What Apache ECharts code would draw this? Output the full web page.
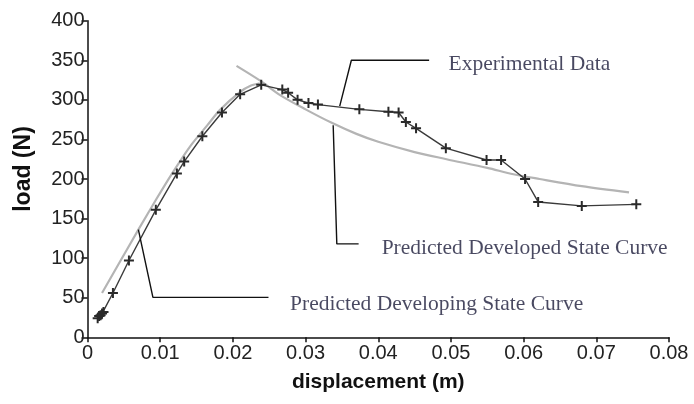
<!DOCTYPE html>
<html>
<head>
<meta charset="utf-8">
<script src="https://cdn.jsdelivr.net/npm/echarts@6/dist/echarts.min.js"></script>
<style>
  html, body { margin: 0; padding: 0; background: #fff; }
  #chart { width: 694px; height: 404px; }
</style>
</head>
<body>
<div id="chart"></div>
<script>
// displacement (m), load (N)
const experimental = [
  [0.0014, 24], [0.0016, 27], [0.0018, 28], [0.0020, 30], [0.0022, 32],
  [0.0035, 56], [0.0057, 97], [0.0094, 161], [0.0123, 207], [0.0133, 222],
  [0.0158, 254], [0.0185, 284], [0.0210, 307], [0.0239, 319], [0.0268, 313],
  [0.0276, 309], [0.0289, 300], [0.0304, 296], [0.0317, 294], [0.0374, 288],
  [0.0414, 285], [0.0428, 284], [0.0438, 272], [0.0452, 264], [0.0493, 239],
  [0.0549, 224], [0.0569, 224], [0.0602, 200], [0.0620, 171], [0.0680, 166],
  [0.0755, 168]
];

const developing = [
  [0.0020, 56], [0.0045, 96], [0.0070, 136], [0.0095, 175], [0.0115, 205],
  [0.0141, 241], [0.0165, 268], [0.0182, 287], [0.0210, 310], [0.0225, 318],
  [0.0237, 321]
];

const developed = [
  [0.0205, 343], [0.0238, 324], [0.0265, 306], [0.0300, 288], [0.0336, 271],
  [0.0370, 257], [0.0400, 247], [0.0450, 234], [0.0494, 225], [0.0550, 214],
  [0.0586, 206], [0.0622, 200], [0.0680, 191], [0.0745, 183]
];

// leader lines for the callouts, in data units
const leaderExperimental = [[0.0347, 292], [0.0363, 350], [0.0470, 350]];
const leaderDeveloped = [[0.0338, 268], [0.0343, 118], [0.0373, 118]];
const leaderDeveloping = [[0.0070, 136], [0.0090, 50.5], [0.0249, 50.5]];

const callouts = [
  [0.0496, 345, 'Experimental Data'],
  [0.0404, 112, 'Predicted Developed State Curve'],
  [0.0278, 42, 'Predicted Developing State Curve']
];

const xTicks = ['0', '0.01', '0.02', '0.03', '0.04', '0.05', '0.06', '0.07', '0.08'];

const plus = 'path://M4,0h2v10h-2z M0,4h10v2h-10z';

const chart = echarts.init(document.getElementById('chart'));

const leader = (data) => ({
  type: 'line',
  data: data,
  symbol: 'none',
  silent: true,
  lineStyle: { color: '#111', width: 1.4 },
  z: 4
});

const option = {
  backgroundColor: '#fff',
  animation: false,
  grid: { left: 87.5, right: 25, top: 20.7, bottom: 66.7 },
  xAxis: {
    type: 'value',
    min: 0,
    max: 0.08,
    interval: 0.01,
    name: 'displacement (m)',
    nameLocation: 'middle',
    nameGap: 34,
    nameTextStyle: { fontFamily: 'Liberation Sans', fontWeight: 'bold', fontSize: 21, color: '#111' },
    axisLine: { lineStyle: { color: '#111', width: 1.5 } },
    axisTick: { inside: false, length: 5, lineStyle: { color: '#111', width: 1.5 } },
    axisLabel: {
      fontFamily: 'Liberation Sans', fontSize: 20, color: '#222', margin: 6,
      formatter: (v) => xTicks[Math.round(v * 100)]
    },
    splitLine: { show: false }
  },
  yAxis: {
    type: 'value',
    min: 0,
    max: 400,
    interval: 50,
    name: 'load (N)',
    nameLocation: 'middle',
    nameGap: 52,
    nameRotate: 90,
    nameTextStyle: {
      fontFamily: 'Liberation Sans', fontWeight: 'bold', fontSize: 23, color: '#111',
      padding: [0, 0, 0, 20]
    },
    axisLine: { show: true, lineStyle: { color: '#111', width: 1.5 } },
    axisTick: { show: true, length: 6, lineStyle: { color: '#111', width: 1.5 } },
    axisLabel: { fontFamily: 'Liberation Sans', fontSize: 20, color: '#222', margin: 3 },
    splitLine: { show: false }
  },
  series: [
    {
      name: 'Predicted Developing State Curve',
      type: 'line',
      data: developing,
      smooth: 0.3,
      symbol: 'none',
      lineStyle: { color: '#b4b4b4', width: 2.2 },
      z: 2
    },
    {
      name: 'Predicted Developed State Curve',
      type: 'line',
      data: developed,
      smooth: 0.3,
      symbol: 'none',
      lineStyle: { color: '#b4b4b4', width: 2.2 },
      z: 2
    },
    {
      name: 'Experimental Data',
      type: 'line',
      data: experimental,
      symbol: plus,
      symbolSize: 10,
      itemStyle: { color: '#2a2a2a' },
      lineStyle: { color: '#3a3a3a', width: 1.4 },
      z: 3
    },
    leader(leaderExperimental),
    leader(leaderDeveloped),
    leader(leaderDeveloping),
    {
      type: 'scatter',
      data: callouts,
      symbolSize: 1,
      silent: true,
      itemStyle: { color: 'rgba(0,0,0,0)' },
      label: {
        show: true,
        position: 'right',
        distance: 0,
        formatter: (p) => p.value[2],
        fontFamily: 'Liberation Serif',
        fontSize: 21.5,
        color: '#1c1c3a'
      },
      z: 5
    }
  ]
};

chart.setOption(option);
</script>
</body>
</html>
